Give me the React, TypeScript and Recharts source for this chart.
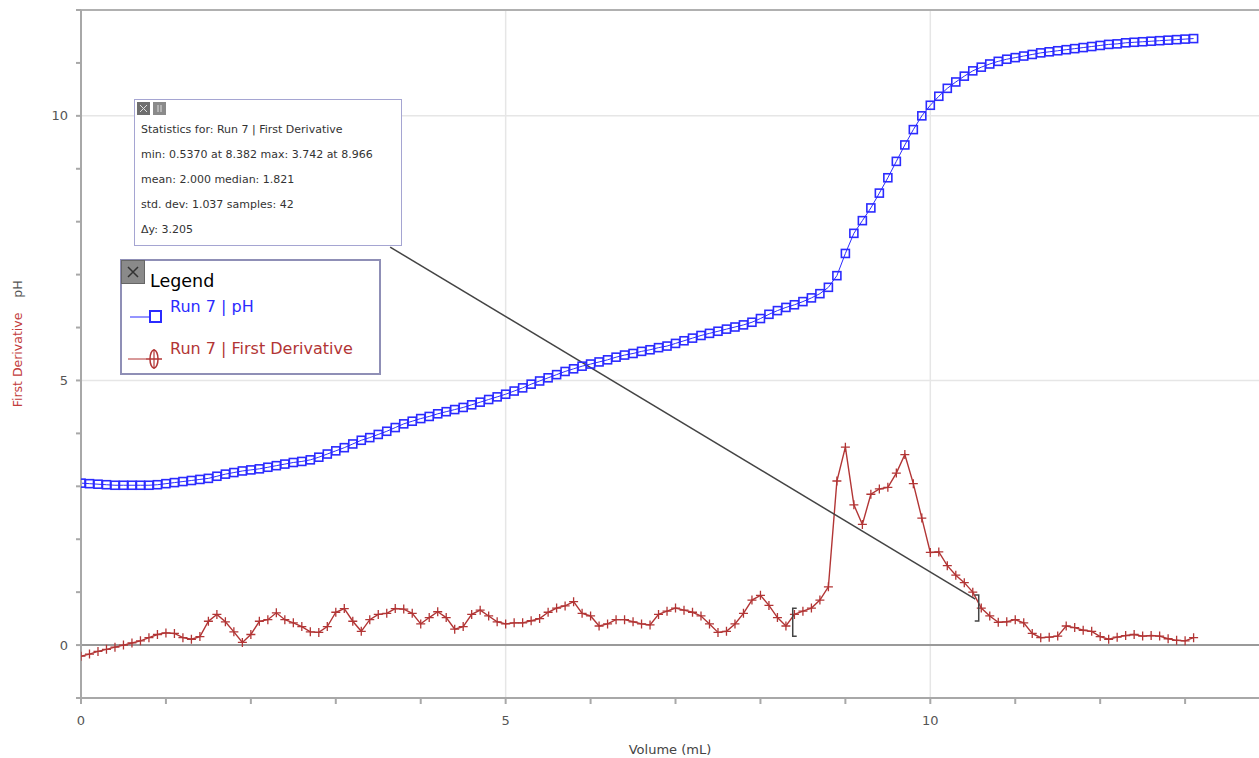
import React from 'react'
import {
  ComposedChart, Line, XAxis, YAxis, ReferenceLine, ReferenceDot, Label,
} from 'recharts'

// volume readings (mL)
const volumes = [
  0, 0.1, 0.2, 0.3, 0.4, 0.5, 0.6, 0.7, 0.8, 0.9,
  1, 1.1, 1.2, 1.3, 1.4, 1.5, 1.6, 1.7, 1.8, 1.9,
  2, 2.1, 2.2, 2.3, 2.4, 2.5, 2.6, 2.7, 2.8, 2.9,
  3, 3.1, 3.2, 3.3, 3.4, 3.5, 3.6, 3.7, 3.8, 3.9,
  4, 4.1, 4.2, 4.3, 4.4, 4.5, 4.6, 4.7, 4.8, 4.9,
  5, 5.1, 5.2, 5.3, 5.4, 5.5, 5.6, 5.7, 5.8, 5.9,
  6, 6.1, 6.2, 6.3, 6.4, 6.5, 6.6, 6.7, 6.8, 6.9,
  7, 7.1, 7.2, 7.3, 7.4, 7.5, 7.6, 7.7, 7.8, 7.9,
  8, 8.1, 8.2, 8.3, 8.4, 8.5, 8.6, 8.7, 8.8, 8.9,
  9, 9.1, 9.2, 9.3, 9.4, 9.5, 9.6, 9.7, 9.8, 9.9,
  10, 10.1, 10.2, 10.3, 10.4, 10.5, 10.6, 10.7, 10.8, 10.9,
  11, 11.1, 11.2, 11.3, 11.4, 11.5, 11.6, 11.7, 11.8, 11.9,
  12, 12.1, 12.2, 12.3, 12.4, 12.5, 12.6, 12.7, 12.8, 12.9,
  13, 13.1,
]

const phValues = [
  3.06, 3.05, 3.04, 3.03, 3.02, 3.02, 3.02, 3.02, 3.02, 3.03,
  3.05, 3.07, 3.09, 3.11, 3.13, 3.15, 3.19, 3.23, 3.26, 3.29,
  3.31, 3.33, 3.36, 3.39, 3.42, 3.45, 3.47, 3.5, 3.55, 3.61,
  3.67, 3.73, 3.8, 3.87, 3.92, 3.98, 4.04, 4.11, 4.18, 4.23,
  4.28, 4.32, 4.37, 4.41, 4.45, 4.49, 4.54, 4.59, 4.64, 4.69,
  4.74, 4.8, 4.86, 4.93, 4.99, 5.05, 5.11, 5.17, 5.22, 5.27,
  5.31, 5.35, 5.39, 5.44, 5.48, 5.51, 5.55, 5.58, 5.62, 5.65,
  5.7, 5.75, 5.8, 5.85, 5.89, 5.93, 5.97, 6.01, 6.05, 6.1,
  6.17, 6.25, 6.32, 6.38, 6.43, 6.49, 6.56, 6.64, 6.76, 6.98,
  7.4, 7.78, 8.02, 8.26, 8.54, 8.83, 9.14, 9.45, 9.74, 10.0,
  10.2, 10.37, 10.52, 10.64, 10.75, 10.85, 10.92, 10.98, 11.03, 11.07,
  11.1, 11.13, 11.16, 11.19, 11.21, 11.23, 11.25, 11.27, 11.29, 11.31,
  11.33, 11.35, 11.36, 11.38, 11.39, 11.4, 11.41, 11.42, 11.43, 11.44,
  11.45, 11.46,
]

const derivValues = [
  -0.21, -0.17, -0.12, -0.08, -0.04, 0.0, 0.04, 0.08, 0.14, 0.2,
  0.23, 0.22, 0.14, 0.11, 0.16, 0.45, 0.58, 0.44, 0.25, 0.05,
  0.2, 0.45, 0.48, 0.61, 0.48, 0.42, 0.35, 0.25, 0.24, 0.35,
  0.62, 0.69, 0.45, 0.26, 0.48, 0.58, 0.6, 0.69, 0.68, 0.6,
  0.4, 0.52, 0.63, 0.52, 0.3, 0.35, 0.58, 0.66, 0.55, 0.44,
  0.4, 0.42, 0.42, 0.46, 0.5, 0.62, 0.7, 0.74, 0.82, 0.6,
  0.55, 0.36, 0.4, 0.48, 0.48, 0.44, 0.4, 0.38, 0.58, 0.64,
  0.7, 0.66, 0.62, 0.55, 0.4, 0.24, 0.26, 0.4, 0.6, 0.85,
  0.94, 0.75, 0.52, 0.36, 0.58, 0.64, 0.7, 0.85, 1.1, 3.1,
  3.74, 2.65, 2.28, 2.85, 2.95, 2.98, 3.25, 3.6, 3.05, 2.4,
  1.75, 1.76, 1.5, 1.32, 1.18, 1.0, 0.7, 0.55, 0.43, 0.44,
  0.48, 0.42, 0.22, 0.14, 0.15, 0.17, 0.36, 0.33, 0.28, 0.26,
  0.16, 0.11, 0.15, 0.18, 0.2, 0.17, 0.18, 0.17, 0.12, 0.09,
  0.08, 0.14,
]

const xTicks = [0, 1, 2, 3, 4, 5, 6, 7, 8, 9, 10, 11, 12, 13]
const yTicks = [-1, 0, 1, 2, 3, 4, 5, 6, 7, 8, 9, 10, 11, 12]
const labelledTicks = [0, 5, 10]

const statsLines = [
  'Statistics for: Run 7 | First Derivative',
  'min: 0.5370 at 8.382 max: 3.742 at 8.966',
  'mean: 2.000 median: 1.821',
  'std. dev: 1.037 samples: 42',
  '\u0394y: 3.205',
]

const BLUE = '#2b2bff'
const RED = '#b23535'
const FONT = '"DejaVu Sans", Verdana, sans-serif'

const data = volumes.map((v, i) => ({ volume: v, ph: phValues[i], deriv: derivValues[i] }))

const SquareDot = (p: any) => {
  if (p.cx == null || p.cy == null) return null
  return <rect key={`s${p.index}`} x={p.cx - 4} y={p.cy - 4} width={8} height={8} fill="none" stroke={BLUE} strokeWidth={1.6} />
}

const PlusDot = (p: any) => {
  if (p.cx == null || p.cy == null) return null
  return (
    <path key={`c${p.index}`} d={`M${p.cx - 4.5},${p.cy}H${p.cx + 4.5}M${p.cx},${p.cy - 4.5}V${p.cy + 4.5}`}
      stroke={RED} strokeWidth={1.3} fill="none" />
  )
}

const BracketShape = (side: 'left' | 'right') => (p: any) => {
  const { cx, cy } = p
  const d = side === 'left'
    ? `M${cx + 4},${cy - 14}H${cx}V${cy + 14}H${cx + 4}`
    : `M${cx - 4},${cy - 13}H${cx}V${cy + 13}H${cx - 4}`
  return <path d={d} stroke="#444" strokeWidth={1.5} fill="none" />
}

const tickFmt = (v: number) => (labelledTicks.includes(v) ? String(v) : '')

const YTitle = () => (
  <g fontFamily={FONT} fontSize={12.5}>
    <text x={22} y={360} transform="rotate(-90 22 360)" textAnchor="middle" fill="#c23b3b">First Derivative</text>
    <text x={22} y={289} transform="rotate(-90 22 289)" textAnchor="middle" fill="#555">pH</text>
  </g>
)

const LegendBox = () => (
  <div style={{
    position: 'absolute', left: 120, top: 259, width: 257, height: 112,
    border: '2px solid #8f8fb6', background: '#fff', fontFamily: FONT,
  }}>
    <div style={{ position: 'absolute', left: -1, top: -1, width: 22, height: 22, background: '#8a8a8a', border: '1px solid #666' }}>
      <svg width={22} height={22}><path d="M6,6L16,16M16,6L6,16" stroke="#333" strokeWidth={1.5} /></svg>
    </div>
    <div style={{ position: 'absolute', left: 28, top: 10, fontSize: 17.5, color: '#000' }}>Legend</div>
    <svg style={{ position: 'absolute', left: 0, top: 0 }} width={60} height={112}>
      <path d="M8,56H28" stroke={BLUE} strokeWidth={1} />
      <rect x={28} y={50} width={11} height={11} fill="none" stroke={BLUE} strokeWidth={2} />
      <path d="M6,98H40" stroke={RED} strokeWidth={1} />
      <ellipse cx={32} cy={98} rx={4} ry={9} fill="none" stroke={RED} strokeWidth={1.5} />
      <path d="M24,98H40M32,88V108" stroke={RED} strokeWidth={1.2} />
    </svg>
    <div style={{ position: 'absolute', left: 48, top: 36, fontSize: 16, color: BLUE }}>Run 7 | pH</div>
    <div style={{ position: 'absolute', left: 48, top: 78, fontSize: 16, color: RED }}>Run 7 | First Derivative</div>
  </div>
)

const StatsBox = () => (
  <div style={{
    position: 'absolute', left: 134, top: 99, width: 266, height: 145, border: '1.5px solid #a5a5d2',
    background: '#fff', fontFamily: FONT, fontSize: 11, color: '#333',
  }}>
    <div style={{ position: 'absolute', left: 2, top: 2, width: 13, height: 13, background: '#6e6e6e' }}>
      <svg width={13} height={13}><path d="M3,3L10,10M10,3L3,10" stroke="#ddd" strokeWidth={1} /></svg>
    </div>
    <div style={{ position: 'absolute', left: 18, top: 2, width: 13, height: 13, background: '#8a8a8a' }}>
      <svg width={13} height={13}><path d="M5,3V10M8,3V10" stroke="#ddd" strokeWidth={1} /></svg>
    </div>
    {statsLines.map((s, i) => (
      <div key={i} style={{ position: 'absolute', left: 6, top: 23 + i * 25, whiteSpace: 'nowrap' }}>{s}</div>
    ))}
  </div>
)

export default function App() {
  return (
    <div style={{ position: 'absolute', left: 0, top: 0, width: 1259, height: 758, background: '#fff' }}>
      <ComposedChart width={1259} height={758} data={data} margin={{ top: 10, right: 0, bottom: 0, left: 0 }}>
        <XAxis dataKey="volume" type="number" domain={[0, 13.87]} ticks={xTicks} tickFormatter={tickFmt}
          allowDataOverflow height={60} stroke="#a8a8a8" strokeWidth={2} tickSize={6} tickMargin={12}
          tick={{ fontSize: 13, fill: '#555', fontFamily: FONT }} interval={0}>
          <Label value="Volume (mL)" position="insideBottom" offset={4} style={{ fontSize: 13, fill: '#444', fontFamily: FONT }} />
        </XAxis>
        <YAxis type="number" domain={[-1, 12]} ticks={yTicks} tickFormatter={tickFmt} allowDataOverflow
          width={81} stroke="#a8a8a8" strokeWidth={2} tickSize={5} tickMargin={8} interval={0}
          tick={{ fontSize: 13, fill: '#555', fontFamily: FONT }}>
          <Label content={<YTitle />} />
        </YAxis>
        <ReferenceLine x={5} stroke="#e6e6e6" strokeWidth={1.5} />
        <ReferenceLine x={10} stroke="#e6e6e6" strokeWidth={1.5} />
        <ReferenceLine y={5} stroke="#e6e6e6" strokeWidth={1.5} />
        <ReferenceLine y={10} stroke="#e6e6e6" strokeWidth={1.5} />
        <ReferenceLine y={12} stroke="#b0b0b0" strokeWidth={2} />
        <ReferenceLine y={0} stroke="#9a9a9a" strokeWidth={2} />
        <Line dataKey="ph" type="linear" stroke={BLUE} strokeWidth={1} dot={SquareDot} isAnimationActive={false} />
        <Line dataKey="deriv" type="linear" stroke={RED} strokeWidth={1.4} dot={PlusDot} isAnimationActive={false} />
        <ReferenceLine segment={[{ x: 3.64, y: 7.52 }, { x: 10.53, y: 0.87 }]} stroke="#444" strokeWidth={1.5} />
        <ReferenceDot x={8.38} y={0.43} r={0} shape={BracketShape('left')} />
        <ReferenceDot x={10.57} y={0.7} r={0} shape={BracketShape('right')} />
      </ComposedChart>
      <StatsBox />
      <LegendBox />
    </div>
  )
}
